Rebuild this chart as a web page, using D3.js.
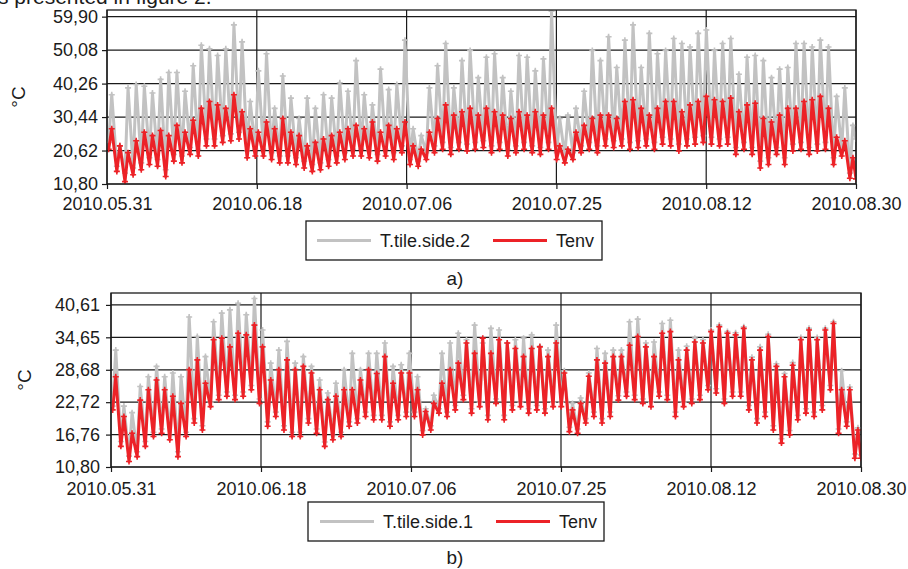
<!DOCTYPE html>
<html><head><meta charset="utf-8">
<script src="https://cdn.jsdelivr.net/npm/d3@7"></script>
<style>
body{margin:0;background:#fff}
svg{display:block}
text{font-family:"Liberation Sans",Arial,sans-serif;fill:#1b1b1b}
</style>
</head><body><svg id="c" width="908" height="569"></svg>
<script>
// ---------- data ----------
const startDate = "2010-05-31T00:00:00";
const endDate = "2010-08-30T23:00:00";
const xTickLabels = ["2010.05.31","2010.06.18","2010.07.06","2010.07.25","2010.08.12","2010.08.30"];

const yTicksA = [10.80,20.62,30.44,40.26,50.08,59.90];
const yTickLabelsA = ["10,80","20,62","30,44","40,26","50,08","59,90"];
const yTicksB = [10.80,16.76,22.72,28.68,34.65,40.61];
const yTickLabelsB = ["10,80","16,76","22,72","28,68","34,65","40,61"];

const seriesNamesA = ["T.tile.side.2","Tenv"];
const seriesNamesB = ["T.tile.side.1","Tenv"];

// panel a) daily max / min (°C), day 0 = 2010.05.31
const tile2Max = [37,22,39,40,39.5,37.5,41.5,43.5,43.5,38,
 45.5,51.5,50.5,48.5,50.5,57.5,52.5,35,44,49,
 33,42.5,36,30,36,33,37,36,40.5,38,
 47,37,34,44.5,38.5,40,53,27,25,39,
 45.5,52,39,47,50,42,48,49,42,38,
 48.5,48,44,47.5,61.5,30,31,33,38,50,
 47,54,45,53,57.5,45,55,49,50,53.5,
 52,51,55,56,50,52,53.5,43,48,48.5,
 47,42,44.5,45,52,52,51,53,51,36.5,
 39,28];
const tile2Min = [23,16,14,15.5,17,18.5,18,15,19.5,19,
 21.5,21,24,24,25,25.5,26,20.5,21,21,
 20,19,19,18.5,17.5,16.5,17,18,19,20,
 21,21,20.5,19.5,21,20,22,18,17.5,20,
 22,23,21.5,23,22.5,23,23.5,22,23,21,
 22,23,22,21.5,23,20,19,20,22,23,
 22,24,23.5,24,23,23.5,24,23,24.5,24,
 22.5,24,24.5,25,24.5,24,24.5,21.5,23,21.5,
 17.5,18.5,21.5,18.5,22.5,23,21.5,22.5,23,18.5,
 21,14];
const envAMax = [27,22,20,23.5,26,25,26.5,25,28,26,
 29.5,33,35,34,33,37,32,27,26,29,
 27,30,26,25,22,23,24,25,26,27,
 28,27,29,26,28,27,29,22,21,26,
 30,34,31,32,33,31,33,32,31,30,
 32,31,32,31,33,22,21,26,28,30,
 31,31,30,35,35.5,33,31,33,35,35,
 32,34,35,36.5,35.5,35,36,32,34,34.5,
 30,29,31,33,33,35,35.5,36.5,33,24.5,
 23.5,18.5];
const envAMin = [21,14.5,11.5,13.5,15,16.5,16,13,17.5,17,
 19.5,19,22,22,23,23.5,24,18.5,19,19,
 18,17,17,16.5,15.5,14.5,15,16,17,18,
 19,19,18.5,17.5,19,18,20,16.5,16,18,
 20,21,19.5,21,20.5,21,21.5,20,21,19,
 20,21,20,19.5,21,18,17,18,20,21,
 20,22,21.5,22,21,21.5,22,21,22.5,22,
 20.5,22,22.5,23,22.5,22,22.5,19.5,21,19.5,
 15.5,16.5,19.5,16.5,20.5,21,19.5,20.5,21,16.5,
 19,12.5];
const endA = [24, 12.3];

// panel b)
const tile1Max = [32.3,22.0,20.8,25.6,27.4,29.3,27.4,28.1,27.4,38.4,
 34.8,31.1,37.5,39.1,39.7,40.9,38.8,41.8,36.0,29.9,
 32.3,33.9,29.9,31.1,29.3,26.8,24.4,26.2,28.7,31.7,
 28.7,31.7,31.7,33.6,29.3,29.6,31.7,27.4,21.5,24.0,
 31.7,33.6,35.4,34.2,36.9,33.6,36.3,36.0,33.6,34.2,
 34.5,35.1,33.0,32.3,36.9,28.5,22.5,23.5,28.1,32.6,
 31.7,32.3,32.3,37.5,38.0,33.6,33.8,37.2,37.8,32.3,
 33.0,34.5,34.2,36.0,36.9,35.7,35.5,36.6,31.0,32.9,
 35.2,29.8,28.0,30.0,34.6,36.3,34.6,36.3,37.5,28.5,
 25.5,18.0];
const tile1Min = [22.0,15.5,12.8,13.6,15.5,17.2,17.8,16.6,13.6,17.2,
 19.7,18.4,22.7,24.0,24.6,24.0,24.6,25.8,23.3,19.1,
 20.9,18.4,17.2,17.2,19.7,17.8,15.4,16.6,17.2,19.1,
 19.7,20.9,20.3,20.3,19.1,20.3,20.9,20.9,17.5,18.4,
 21.5,20.9,22.1,24.0,21.5,22.7,20.3,23.3,20.3,22.1,
 22.7,21.5,22.1,21.5,22.7,22.7,18.1,17.8,19.7,20.9,
 19.7,20.9,23.9,24.6,24.0,23.3,22.7,24.6,24.0,20.9,
 22.7,23.3,24.0,25.8,25.2,23.3,24.6,24.6,22.1,19.7,
 20.9,18.4,16.0,17.5,20.3,21.5,20.9,22.1,25.8,17.8,
 19.1,13.2];
const envBMax = [27.4,20.1,17.0,23.1,25.0,26.8,25.0,23.8,22.5,28.7,
 30.5,26.2,34.2,34.5,32.9,35.4,35.1,36.9,32.9,26.8,
 28.7,30.5,28.7,29.3,28.1,25.0,23.2,23.8,25.0,25.0,
 26.8,28.7,28.0,31.1,26.2,28.1,28.1,25.0,21.0,22.5,
 26.2,28.7,29.9,33.6,31.7,34.5,31.7,34.2,33.6,32.6,
 31.1,32.6,32.9,31.1,33.6,28.1,21.3,22.5,27.5,30.5,
 29.9,31.1,31.1,33.2,34.8,32.9,31.1,35.4,35.7,30.5,
 32.3,33.8,33.6,35.7,36.6,35.4,35.1,36.3,30.5,32.3,
 34.8,29.3,27.4,29.5,34.2,36.0,34.2,36.0,37.2,25.0,
 25.0,17.6];
const envBMin = [21.3,14.6,11.8,12.7,14.6,16.4,17.0,15.8,12.7,16.4,
 18.9,17.6,21.9,23.2,23.8,23.2,23.8,25.0,22.5,18.3,
 20.1,17.6,16.4,16.4,18.9,17.0,14.6,15.8,16.4,18.3,
 18.9,20.1,19.5,19.5,18.3,19.5,20.1,20.1,16.7,17.6,
 20.7,20.1,21.3,23.2,20.7,21.9,19.5,22.5,19.5,21.3,
 21.9,20.7,21.3,20.7,21.9,21.9,17.3,17.0,18.9,20.1,
 18.9,20.1,23.1,23.8,23.2,22.5,21.9,23.8,23.2,20.1,
 21.9,22.5,23.2,25.0,24.4,22.5,23.8,23.8,21.3,18.9,
 20.1,17.6,15.2,16.7,19.5,20.7,20.1,21.3,25.0,17.0,
 18.3,12.4];
const endB = [13.0, 12.4];

// ---------- drawing ----------
const svg = d3.select("#c");
const t0 = new Date(startDate), t1 = new Date(endDate);
const HOUR = 3600e3, DAY = 24*HOUR;
const colors = ["#c2c2c2", "#ec2227"];

function buildSeries(mins, maxs, endVal){
  const pts = [];
  mins.forEach((mn, d) => {
    pts.push({t: new Date(+t0 + d*DAY + 5*HOUR), v: mn});
    pts.push({t: new Date(+t0 + d*DAY + 14*HOUR), v: maxs[d]});
  });
  pts.push({t: t1, v: endVal});
  return pts;
}

function panel(cfg){
  const g = svg.append("g");
  const x = d3.scaleTime().domain([t0, t1]).range([cfg.left, cfg.right]);
  const y = d3.scaleLinear().domain(cfg.yDomain).range([cfg.bottom, cfg.top]);
  const tickDates = d3.range(6).map(i => new Date(+t0 + i*(t1 - t0)/5));

  const clipId = "clip" + cfg.id;
  svg.append("clipPath").attr("id", clipId).append("rect")
    .attr("x", cfg.left).attr("y", cfg.top).attr("width", cfg.right - cfg.left).attr("height", cfg.bottom - cfg.top);

  // grid
  g.selectAll(".hg").data(cfg.yTicks).enter().append("line")
    .attr("x1", cfg.left).attr("x2", cfg.right)
    .attr("y1", d => y(d)).attr("y2", d => y(d))
    .attr("stroke", "#1a1a1a").attr("stroke-width", 1.2);
  g.selectAll(".vg").data(tickDates).enter().append("line")
    .attr("x1", d => x(d)).attr("x2", d => x(d))
    .attr("y1", cfg.top).attr("y2", cfg.bottom)
    .attr("stroke", "#1a1a1a").attr("stroke-width", 1.2);

  // series
  const line = d3.line().x(d => x(d.t)).y(d => y(d.v));
  const plot = g.append("g").attr("clip-path", `url(#${clipId})`);
  cfg.series.forEach((s, i) => {
    const pts = buildSeries(s.min, s.max, s.end);
    plot.append("path").datum(pts).attr("d", line)
      .attr("fill", "none").attr("stroke", colors[i])
      .attr("stroke-width", 3).attr("stroke-linejoin", "round");
    plot.append("g").selectAll("path").data(pts).enter().append("path")
      .attr("d", d => `M${x(d.t)-3},${y(d.v)}h6M${x(d.t)},${y(d.v)-3}v6`)
      .attr("stroke", colors[i]).attr("stroke-width", 1.6);
  });

  // frame
  g.append("rect").attr("x", cfg.left).attr("y", cfg.top)
    .attr("width", cfg.right - cfg.left).attr("height", cfg.bottom - cfg.top)
    .attr("fill", "none").attr("stroke", "#1a1a1a").attr("stroke-width", 1.3);

  // axes
  const xa = g.append("g").attr("transform", `translate(0,${cfg.bottom})`)
    .call(d3.axisBottom(x).tickValues(tickDates).tickFormat((d,i) => xTickLabels[i])
      .tickSize(5).tickPadding(cfg.xPad).tickSizeOuter(0));
  const ya = g.append("g").attr("transform", `translate(${cfg.left},0)`)
    .call(d3.axisLeft(y).tickValues(cfg.yTicks).tickFormat((d,i) => cfg.yLabels[i])
      .tickSize(5).tickPadding(cfg.yPad).tickSizeOuter(0));
  [xa, ya].forEach(a => {
    a.select(".domain").remove();
    a.selectAll("line").attr("stroke", "#1a1a1a").attr("stroke-width", 1.2);
    a.selectAll("text").attr("font-size", 18).attr("fill", "#1b1b1b")
      .attr("font-family", '"Liberation Sans",Arial,sans-serif');
  });

  // y title
  g.append("text").attr("transform", `translate(${cfg.yTitleX},${(cfg.top+cfg.bottom)/2}) rotate(-90)`)
    .attr("text-anchor", "middle").attr("font-size", 19).text("°C");

  // legend
  const L = cfg.legend;
  g.append("rect").attr("x", L.x).attr("y", L.y).attr("width", L.w).attr("height", L.h)
    .attr("fill", "#fff").attr("stroke", "#1a1a1a").attr("stroke-width", 1.3);
  cfg.names.forEach((n, i) => {
    const lx = L.items[i];
    g.append("line").attr("x1", lx).attr("x2", lx + 54)
      .attr("y1", L.y + L.h/2).attr("y2", L.y + L.h/2)
      .attr("stroke", colors[i]).attr("stroke-width", 3);
    g.append("text").attr("x", lx + 63).attr("y", L.y + L.h/2 + 6.5)
      .attr("font-size", 18).text(n);
  });

  g.append("text").attr("x", 455).attr("y", cfg.capY).attr("text-anchor", "middle")
    .attr("font-size", 19).text(cfg.caption);
}

svg.append("text").attr("x", -2).attr("y", 4).attr("font-size", 21).text("s presented in figure 2.");

panel({
  id: "a", left: 107, right: 856, top: 10, bottom: 184, yDomain: [10.8, 61.85],
  yTicks: yTicksA, yLabels: yTickLabelsA, xPad: 8, yPad: 4, yTitleX: 25,
  names: seriesNamesA,
  series: [{min: tile2Min, max: tile2Max, end: endA[0]}, {min: envAMin, max: envAMax, end: endA[1]}],
  legend: {x: 306, y: 221, w: 296, h: 39, items: [317, 493]},
  caption: "a)", capY: 285
});
panel({
  id: "b", left: 111, right: 861, top: 293, bottom: 467, yDomain: [10.8, 42.8],
  yTicks: yTicksB, yLabels: yTickLabelsB, xPad: 10, yPad: 6, yTitleX: 31,
  names: seriesNamesB,
  series: [{min: tile1Min, max: tile1Max, end: endB[0]}, {min: envBMin, max: envBMax, end: endB[1]}],
  legend: {x: 308, y: 502, w: 296, h: 39, items: [320, 496]},
  caption: "b)", capY: 564
});
</script>
</body></html>
